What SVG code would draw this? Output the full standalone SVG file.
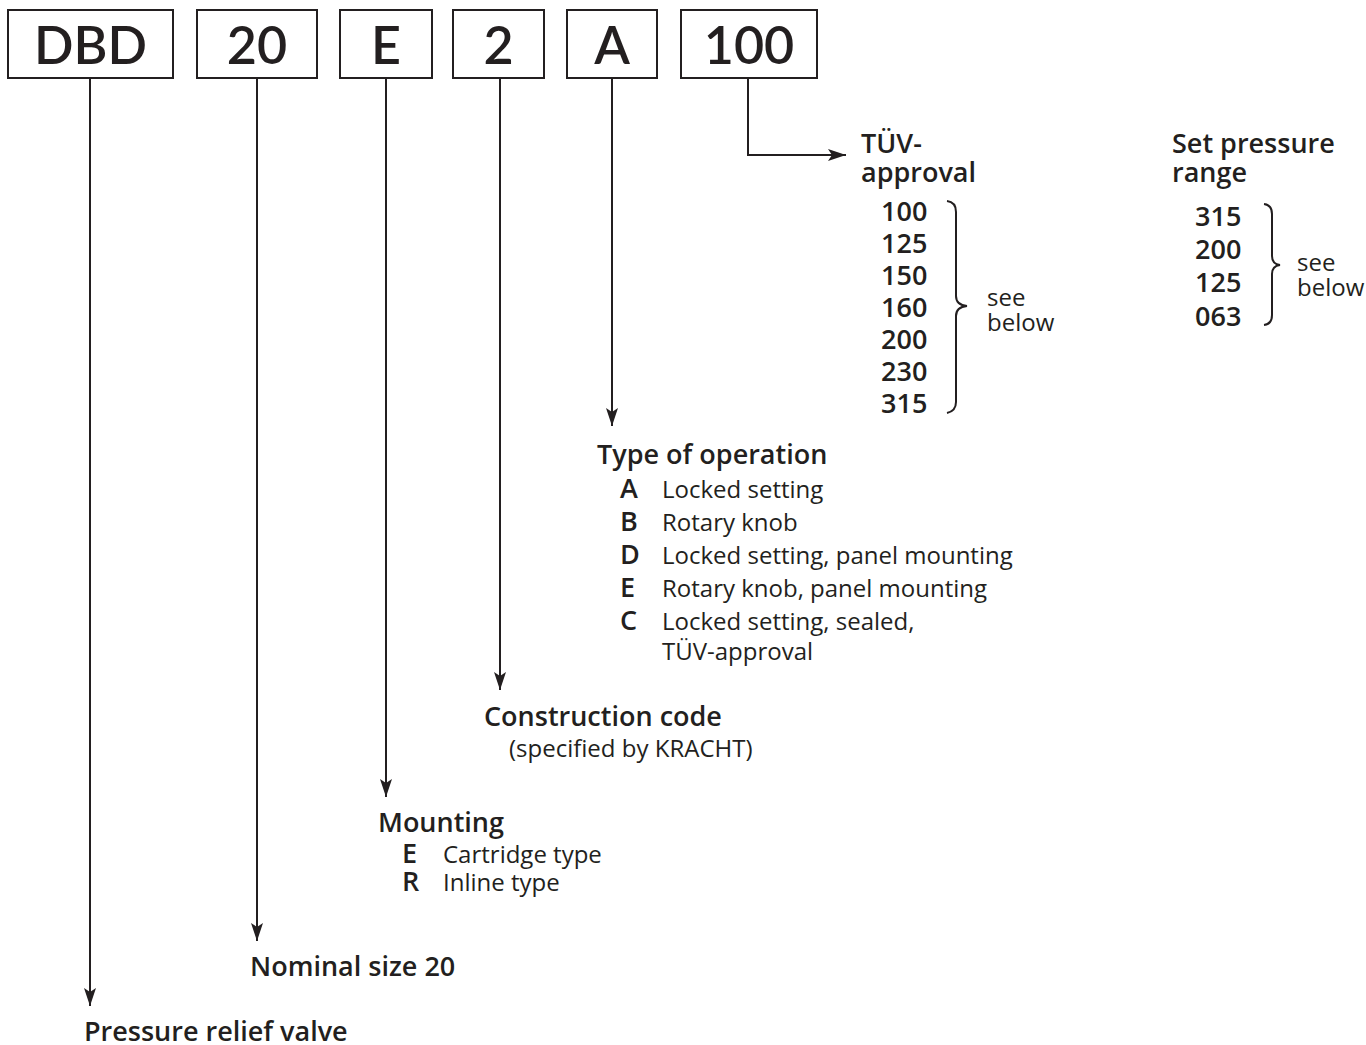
<svg xmlns="http://www.w3.org/2000/svg" width="1366" height="1045" viewBox="0 0 1366 1045">
<defs>
<marker id="ah" viewBox="0 0 18 12" refX="18" refY="6" markerWidth="18" markerHeight="12" markerUnits="userSpaceOnUse" orient="auto">
<path d="M0,0 L18,6 L0,12 L4,6 Z" fill="#231f20"/>
</marker>
<style>
.box{fill:#fff;stroke:#231f20;stroke-width:2}
.code{font-family:Lato,"Liberation Sans",sans-serif;font-size:52px;font-weight:600;fill:#231f20;text-anchor:middle}
.ln{fill:none;stroke:#231f20;stroke-width:2}
.h{font-family:"Open Sans","Liberation Sans",sans-serif;font-size:27px;font-weight:600;fill:#231f20}
.t{font-family:"Open Sans","Liberation Sans",sans-serif;font-size:24px;fill:#231f20}
.b{font-family:"Open Sans","Liberation Sans",sans-serif;font-size:27px;font-weight:600;fill:#231f20}
</style>
</defs>
<rect width="1366" height="1045" fill="#fff"/>
<g id="node-dbd"><rect class="box" x="8" y="10" width="165" height="68"/><text class="code" x="90.5" y="64">DBD</text></g>
<g id="node-20"><rect class="box" x="197" y="10" width="120" height="68"/><text class="code" x="257" y="64">20</text></g>
<g id="node-e"><rect class="box" x="340" y="10" width="92" height="68"/><text class="code" x="386" y="64">E</text></g>
<g id="node-2"><rect class="box" x="453" y="10" width="91" height="68"/><text class="code" x="498.5" y="64">2</text></g>
<g id="node-a"><rect class="box" x="567" y="10" width="90" height="68" stroke="#555"/><text class="code" x="612" y="64">A</text></g>
<g id="node-100"><rect class="box" x="681" y="10" width="136" height="68"/><text class="code" x="749" y="64">100</text></g>
<g id="connectors">
<line class="ln" x1="90" y1="78" x2="90" y2="1006" marker-end="url(#ah)"/>
<line class="ln" x1="257" y1="78" x2="257" y2="941" marker-end="url(#ah)"/>
<line class="ln" x1="386" y1="78" x2="386" y2="797" marker-end="url(#ah)"/>
<line class="ln" x1="500" y1="78" x2="500" y2="690" marker-end="url(#ah)"/>
<line class="ln" x1="612" y1="78" x2="612" y2="426" marker-end="url(#ah)"/>
<polyline class="ln" points="748,78 748,155 846,155" marker-end="url(#ah)"/>
</g>
<g id="node-tuv">
<text class="h" x="861" y="153">TÜV-</text>
<text class="h" x="861" y="182">approval</text>
<text class="b" x="881" y="221">100</text>
<text class="b" x="881" y="253">125</text>
<text class="b" x="881" y="285">150</text>
<text class="b" x="881" y="317">160</text>
<text class="b" x="881" y="349">200</text>
<text class="b" x="881" y="381">230</text>
<text class="b" x="881" y="413">315</text>
<path class="ln" stroke-width="1.5" d="M947,201 Q956,202 956,212 L956,296 Q956,305 967,306 Q956,307 956,316 L956,402 Q956,411 947,413"/>
<text class="t" x="987" y="306">see</text>
<text class="t" x="987" y="331">below</text>
</g>
<g id="node-pressure">
<text class="h" x="1172" y="153">Set pressure</text>
<text class="h" x="1172" y="182">range</text>
<text class="b" x="1195" y="226">315</text>
<text class="b" x="1195" y="259">200</text>
<text class="b" x="1195" y="292">125</text>
<text class="b" x="1195" y="326">063</text>
<path class="ln" stroke-width="1.5" d="M1264,204 Q1272,205 1272,214 L1272,256 Q1272,264 1280,265 Q1272,266 1272,274 L1272,315 Q1272,324 1264,325"/>
<text class="t" x="1297" y="271">see</text>
<text class="t" x="1297" y="296">below</text>
</g>
<g id="node-operation">
<text class="h" x="597" y="464">Type of operation</text>
<text class="b" x="620" y="498">A</text><text class="t" x="662" y="498">Locked setting</text>
<text class="b" x="620" y="531">B</text><text class="t" x="662" y="531">Rotary knob</text>
<text class="b" x="620" y="564">D</text><text class="t" x="662" y="564">Locked setting, panel mounting</text>
<text class="b" x="620" y="597">E</text><text class="t" x="662" y="597">Rotary knob, panel mounting</text>
<text class="b" x="620" y="630">C</text><text class="t" x="662" y="630">Locked setting, sealed,</text>
<text class="t" x="662" y="660">TÜV-approval</text>
</g>
<g id="node-construction">
<text class="h" x="484" y="726">Construction code</text>
<text class="t" x="509" y="757">(specified by KRACHT)</text>
</g>
<g id="node-mounting">
<text class="h" x="378" y="832">Mounting</text>
<text class="b" x="402" y="863">E</text><text class="t" x="443" y="863">Cartridge type</text>
<text class="b" x="402" y="891">R</text><text class="t" x="443" y="891">Inline type</text>
</g>
<g id="node-size"><text class="h" x="250" y="976">Nominal size 20</text></g>
<g id="node-valve"><text class="h" x="84" y="1041">Pressure relief valve</text></g>
</svg>
